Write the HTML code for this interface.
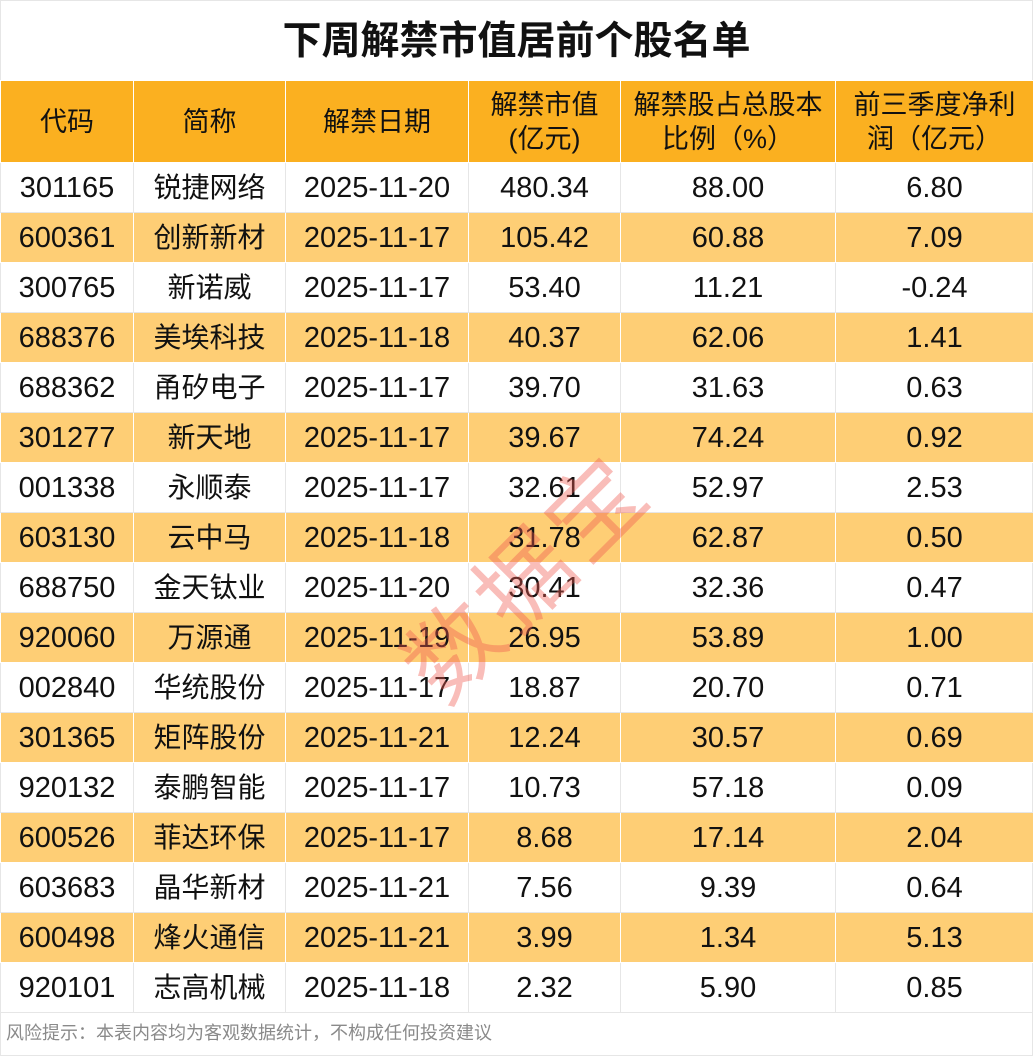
<!DOCTYPE html>
<html><head><meta charset="utf-8"><style>
body{margin:0;width:1033px;height:1056px;background:#fff;font-family:"Liberation Sans","Noto Sans CJK SC",sans-serif;position:relative;overflow:hidden}
.t{position:absolute;top:2px;left:0;width:1033px;height:80px;line-height:80px;text-align:center;font-size:39px;font-weight:bold;color:#111}
table{position:absolute;top:80px;left:0;border-collapse:collapse;table-layout:fixed;width:1033px}
td{border:1px solid #e6e6e6;text-align:center;font-size:28px;color:#111;height:49px;padding:0;line-height:34px;white-space:nowrap}
td.n{font-size:29px}
tr.h td{background:#FBB020;height:81px;border-color:#fff;font-size:27px}
tr.s td{background:#FECE75;border-color:#fff}
.f{position:absolute;top:1012px;left:6px;font-size:18px;color:#8a8a8a;line-height:42px}
.w{position:absolute;left:372px;top:505px;font-size:94px;color:rgba(240,90,80,0.4);transform:rotate(-45deg);letter-spacing:6px}
.b{position:absolute;left:0;top:0;width:1031px;height:1054px;border:1px solid #e6e6e6}
</style></head><body>
<div class="b"></div>
<div class="t">下周解禁市值居前个股名单</div>
<table>
<colgroup><col style="width:133px"><col style="width:152px"><col style="width:183px"><col style="width:152px"><col style="width:215px"><col style="width:198px"></colgroup>
<tr class="h"><td>代码</td><td>简称</td><td>解禁日期</td><td>解禁市值<br>(亿元)</td><td>解禁股占总股本<br>比例（%）</td><td>前三季度净利<br>润（亿元）</td></tr>
<tr><td class="n">301165</td><td>锐捷网络</td><td class="n">2025-11-20</td><td class="n">480.34</td><td class="n">88.00</td><td class="n">6.80</td></tr>
<tr class="s"><td class="n">600361</td><td>创新新材</td><td class="n">2025-11-17</td><td class="n">105.42</td><td class="n">60.88</td><td class="n">7.09</td></tr>
<tr><td class="n">300765</td><td>新诺威</td><td class="n">2025-11-17</td><td class="n">53.40</td><td class="n">11.21</td><td class="n">-0.24</td></tr>
<tr class="s"><td class="n">688376</td><td>美埃科技</td><td class="n">2025-11-18</td><td class="n">40.37</td><td class="n">62.06</td><td class="n">1.41</td></tr>
<tr><td class="n">688362</td><td>甬矽电子</td><td class="n">2025-11-17</td><td class="n">39.70</td><td class="n">31.63</td><td class="n">0.63</td></tr>
<tr class="s"><td class="n">301277</td><td>新天地</td><td class="n">2025-11-17</td><td class="n">39.67</td><td class="n">74.24</td><td class="n">0.92</td></tr>
<tr><td class="n">001338</td><td>永顺泰</td><td class="n">2025-11-17</td><td class="n">32.61</td><td class="n">52.97</td><td class="n">2.53</td></tr>
<tr class="s"><td class="n">603130</td><td>云中马</td><td class="n">2025-11-18</td><td class="n">31.78</td><td class="n">62.87</td><td class="n">0.50</td></tr>
<tr><td class="n">688750</td><td>金天钛业</td><td class="n">2025-11-20</td><td class="n">30.41</td><td class="n">32.36</td><td class="n">0.47</td></tr>
<tr class="s"><td class="n">920060</td><td>万源通</td><td class="n">2025-11-19</td><td class="n">26.95</td><td class="n">53.89</td><td class="n">1.00</td></tr>
<tr><td class="n">002840</td><td>华统股份</td><td class="n">2025-11-17</td><td class="n">18.87</td><td class="n">20.70</td><td class="n">0.71</td></tr>
<tr class="s"><td class="n">301365</td><td>矩阵股份</td><td class="n">2025-11-21</td><td class="n">12.24</td><td class="n">30.57</td><td class="n">0.69</td></tr>
<tr><td class="n">920132</td><td>泰鹏智能</td><td class="n">2025-11-17</td><td class="n">10.73</td><td class="n">57.18</td><td class="n">0.09</td></tr>
<tr class="s"><td class="n">600526</td><td>菲达环保</td><td class="n">2025-11-17</td><td class="n">8.68</td><td class="n">17.14</td><td class="n">2.04</td></tr>
<tr><td class="n">603683</td><td>晶华新材</td><td class="n">2025-11-21</td><td class="n">7.56</td><td class="n">9.39</td><td class="n">0.64</td></tr>
<tr class="s"><td class="n">600498</td><td>烽火通信</td><td class="n">2025-11-21</td><td class="n">3.99</td><td class="n">1.34</td><td class="n">5.13</td></tr>
<tr><td class="n">920101</td><td>志高机械</td><td class="n">2025-11-18</td><td class="n">2.32</td><td class="n">5.90</td><td class="n">0.85</td></tr>
</table>
<div class="w">数据宝</div>
<div class="f">风险提示：本表内容均为客观数据统计，不构成任何投资建议</div>
</body></html>
